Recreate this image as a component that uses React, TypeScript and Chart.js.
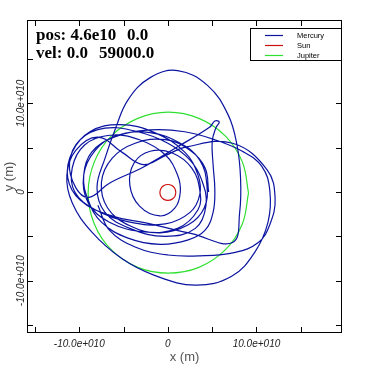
import React, { useEffect, useRef } from "react";
import { Chart, registerables } from "chart.js";

Chart.register(...registerables);

const UNIT = 1e10;

// Mercury trajectory (x, y in units of 1e10 m)
const mercuryX = [
  4.6, 4.2, 2.5, -0.3, -3.7, -6.3, -7.5, -6.8, -4.3, -0.9, 2.3, 4.1,
  4.4, 3.6, 1.4, -2.0, -5.7, -8.2, -9.5, -9.0, -6.6, -2.6, 1.1, 3.4,
  3.6, 2.7, 0.5, -2.0, -3.8, -4.3, -3.2, -0.9, 0.8, 1.4,
  1.1, -0.3, -3.2, -6.6, -9.4, -10.8, -10.5, -8.2, -4.3, -0.3, 2.5, 3.6,
  3.4, 1.9, -1.5, -5.4, -8.8, -10.8, -11.3, -9.9, -6.6, -2.0, 2.7, 7.3,
  8.1, 8.2, 7.8, 6.8, 4.5, 1.1, -2.0, -4.5, -5.9, -7.1, -8.0, -7.1, -4.3, -0.3, 3.1, 4.3, 3.8,
  2.5, 0.0, -3.4, -7.1, -9.9, -11.1, -10.4, -8.9, -6.6, -2.8, 1.1, 4.7, 5.3, 5.8, 5.4,
  5.0, 5.1, 5.3, 5.1, 4.2, 2.3, -0.9, -4.5, -7.5, -9.0, -9.5, -8.6, -6.0, -2.0, 1.9, 5.3, 8.4,
  10.6, 11.5, 11.3, 9.8, 7.2, 3.1, -1.5, -5.2, -8.6, -10.8, -11.4, -10.4, -7.9, -5.2, -2.8, -0.3,
  2.1, 7.3, 11.2, 12.1, 11.5, 10.2, 7.6, 3.6, 0.0, -3.7, -6.6, -7.9,
];
const mercuryY = [
  0.0, 2.7, 4.7, 5.9, 5.5, 3.8, 1.1, -1.8, -3.8, -4.6, -3.7, -1.8,
  0.8, 3.6, 5.5, 6.7, 6.4, 4.7, 1.9, -1.2, -3.4, -4.5, -4.1, -2.0,
  0.2, 2.7, 4.4, 4.6, 3.3, 0.8, -1.6, -2.7, -1.8, 0.0,
  1.9, 4.2, 5.9, 6.4, 5.3, 2.7, 0.0, -2.0, -3.4, -3.6, -2.3, -0.3,
  1.9, 4.5, 6.7, 7.6, 6.8, 4.5, 1.6, -0.9, -2.6, -3.6, -4.7, -5.7,
  -2.3, 1.6, 5.3, 8.7, 12.0, 13.7, 12.9, 10.4, 7.2, 3.8, 0.5, -2.3, -4.1, -5.0, -4.1, -1.5, 1.4,
  3.6, 5.5, 6.8, 7.2, 5.9, 3.3, 0.5, -0.6, 1.0, 2.8, 5.1, 7.3, 8.0, 7.9, 7.2,
  5.7, 3.1, 0.2, -2.3, -4.3, -5.4, -5.9, -5.2, -3.4, -0.9, 1.9, 4.5, 6.2, 7.0, 6.8, 5.9, 4.6,
  2.9, 0.2, -3.4, -6.8, -9.5, -10.5, -9.4, -7.5, -4.5, -1.2, 1.9, 4.7, 6.2, 4.5, 3.1, 4.1,
  5.1, 5.5, 2.5, -0.7, -3.7, -5.7, -6.8, -7.2, -7.1, -6.2, -4.3, -1.5,
];

// Sun wobble (units of 1e10 m)
const sunX = [0.9, 0.78, 0.45, 0.0, -0.45, -0.78, -0.9, -0.78, -0.45, 0.0, 0.45, 0.78, 0.9];
const sunY = [-0.05, 0.4, 0.73, 0.85, 0.73, 0.4, -0.05, -0.5, -0.83, -0.95, -0.83, -0.5, -0.05];

// Jupiter orbit (units of 1e10 m)
const jupiterX = [9.1, 8.4, 6.5, 3.5, 0.05, -3.4, -6.4, -8.3, -9.0, -8.3, -6.4, -3.4, 0.05, 3.5, 6.5, 8.4, 9.1];
const jupiterY = [-0.1, 3.4, 6.3, 8.3, 9.0, 8.3, 6.3, 3.4, -0.1, -3.6, -6.5, -8.5, -9.15, -8.5, -6.5, -3.6, -0.1];

const xRange = [-15.9, 19.65];
const yRange = [-15.9, 19.4];
const tickValues = [-15, -10, -5, 0, 5, 10, 15];
const labelledTicks = [-10, 0, 10];
const tickLabel = (v: number) => (v === 0 ? "0" : `${v.toFixed(1)}e+010`);

const seriesNames = ["Mercury", "Sun", "Jupiter"];
const seriesColors = ["#0a14a0", "#cc1010", "#30e030"];

const toPoints = (xs: number[], ys: number[]) => xs.map((x, i) => ({ x: x * UNIT, y: ys[i] * UNIT }));

export default function App() {
  const ref = useRef<HTMLCanvasElement | null>(null);

  useEffect(() => {
    if (!ref.current) return;
    const decor = {
      id: "decor",
      afterDatasetsDraw(chart: any) {
        const ctx = chart.ctx as CanvasRenderingContext2D;
        const a = chart.chartArea;
        const xs = chart.scales.x;
        const ys = chart.scales.y;
        ctx.save();
        ctx.strokeStyle = "#000";
        ctx.lineWidth = 1;
        ctx.strokeRect(a.left + 0.5, a.top + 0.5, a.right - a.left - 1, a.bottom - a.top - 1);
        const tl = 6;
        ctx.beginPath();
        for (const t of tickValues) {
          const px = Math.round(xs.getPixelForValue(t * UNIT)) + 0.5;
          if (px > a.left && px < a.right) {
            ctx.moveTo(px, a.bottom);
            ctx.lineTo(px, a.bottom - tl);
            ctx.moveTo(px, a.top);
            ctx.lineTo(px, a.top + tl);
          }
          const py = Math.round(ys.getPixelForValue(t * UNIT)) + 0.5;
          if (py > a.top && py < a.bottom) {
            ctx.moveTo(a.left, py);
            ctx.lineTo(a.left + tl, py);
            ctx.moveTo(a.right, py);
            ctx.lineTo(a.right - tl, py);
          }
        }
        ctx.stroke();

        ctx.fillStyle = "#222";
        ctx.font = "italic 10px 'Liberation Sans', Arial, sans-serif";
        ctx.textAlign = "center";
        ctx.textBaseline = "alphabetic";
        for (const t of labelledTicks) {
          const px = xs.getPixelForValue(t * UNIT);
          ctx.fillText(tickLabel(t), px, a.bottom + 14);
        }
        for (const t of labelledTicks) {
          const py = ys.getPixelForValue(t * UNIT);
          ctx.save();
          ctx.translate(a.left - 3, py);
          ctx.rotate(-Math.PI / 2);
          ctx.fillText(tickLabel(t), 0, 0);
          ctx.restore();
        }
        ctx.fillStyle = "#555";
        ctx.font = "13px 'Liberation Sans', Arial, sans-serif";
        ctx.fillText("x (m)", (a.left + a.right) / 2, a.bottom + 28);
        ctx.save();
        ctx.translate(13, (a.top + a.bottom) / 2);
        ctx.rotate(-Math.PI / 2);
        ctx.fillText("y (m)", 0, 0);
        ctx.restore();

        // annotations
        ctx.fillStyle = "#000";
        ctx.textAlign = "left";
        ctx.font = "bold 17px 'Liberation Serif', 'Times New Roman', serif";
        ctx.fillText("pos: 4.6e10", a.left + 9, a.top + 20);
        ctx.fillText("0.0", a.left + 100, a.top + 20);
        ctx.fillText("vel: 0.0", a.left + 9, a.top + 38);
        ctx.fillText("59000.0", a.left + 72, a.top + 38);

        // legend
        const lx = a.right - 92;
        const ly = a.top + 8;
        ctx.fillStyle = "#fff";
        ctx.fillRect(lx, ly, 91, 32);
        ctx.strokeStyle = "#000";
        ctx.lineWidth = 1;
        ctx.strokeRect(lx + 0.5, ly + 0.5, 91, 32);
        ctx.font = "7.5px 'Liberation Sans', Arial, sans-serif";
        ctx.textBaseline = "middle";
        seriesNames.forEach((n, i) => {
          const yy = ly + 7.5 + i * 10;
          ctx.strokeStyle = seriesColors[i];
          ctx.lineWidth = 1.2;
          ctx.beginPath();
          ctx.moveTo(lx + 15, yy);
          ctx.lineTo(lx + 33, yy);
          ctx.stroke();
          ctx.fillStyle = "#000";
          ctx.fillText(n, lx + 47, yy);
        });
        ctx.restore();
      },
    };

    const mk = (i: number, xs: number[], ys: number[]) => ({
      label: seriesNames[i],
      data: toPoints(xs, ys),
      borderColor: seriesColors[i],
      borderWidth: 1.2,
      showLine: true,
      pointRadius: 0,
      tension: 0.4,
      fill: false,
    });

    const chart = new Chart(ref.current, {
      type: "scatter",
      data: {
        datasets: [mk(0, mercuryX, mercuryY), mk(1, sunX, sunY), mk(2, jupiterX, jupiterY)],
      },
      options: {
        animation: false,
        responsive: false,
        maintainAspectRatio: false,
        layout: { padding: { left: 27, right: 25, top: 20, bottom: 37 } },
        plugins: { legend: { display: false }, tooltip: { enabled: false } },
        scales: {
          x: { type: "linear", display: false, min: xRange[0] * UNIT, max: xRange[1] * UNIT },
          y: { type: "linear", display: false, min: yRange[0] * UNIT, max: yRange[1] * UNIT },
        },
      },
      plugins: [decor],
    });
    return () => chart.destroy();
  }, []);

  return (
    <div style={{ position: "absolute", left: 0, top: 0, width: 367, height: 370, background: "#fff" }}>
      <canvas ref={ref} width={367} height={370} style={{ width: 367, height: 370, display: "block" }} />
    </div>
  );
}
